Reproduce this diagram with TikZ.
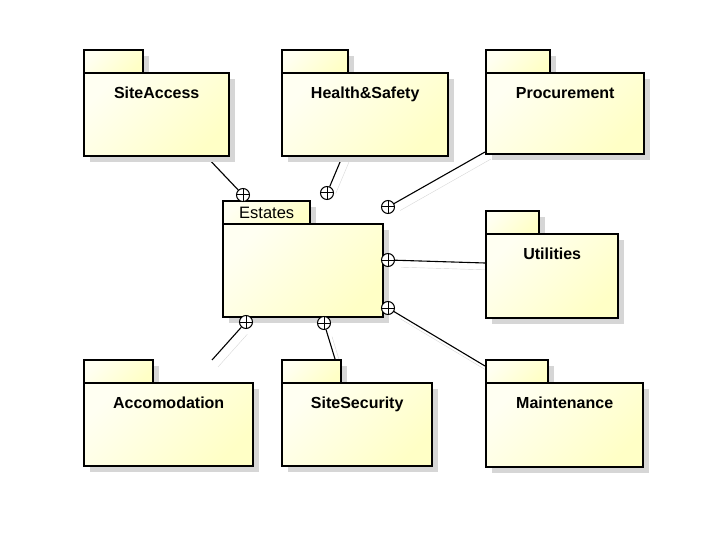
\documentclass[tikz,border=0pt]{standalone}
\usepackage{fontspec}
\setmainfont{Liberation Sans}
\usetikzlibrary{positioning,backgrounds}

\definecolor{pkglight}{RGB}{255,255,242}
\definecolor{pkgdark}{RGB}{255,255,198}
\definecolor{shadowgray}{RGB}{214,214,214}

\tikzset{
  pkgbox/.style={draw, line width=2.4pt, anchor=north west, inner sep=0pt,
    left color=pkglight, right color=pkgdark, shading angle=45},
  pkgshadow/.style={fill=shadowgray},
  pkglabel/.style={font=\fontsize{16}{19}\selectfont\bfseries, inner sep=0pt},
  nestsym/.style={circle, draw, line width=1pt, fill=white, minimum size=13pt, inner sep=0pt,
    path picture={\draw[line width=1pt] (path picture bounding box.north) -- (path picture bounding box.south)
      (path picture bounding box.west) -- (path picture bounding box.east);}},
  nestlink/.style={line width=1.1pt, preaction={draw, shadowgray, transform canvas={xshift=6pt, yshift=-7pt}}}
}

\begin{document}
\begin{tikzpicture}[x=1pt,y=-1pt]
  \useasboundingbox (0,0) rectangle (720,540);

  % packages: name / left / body top / body width / body height / tab width / text
  \foreach \nm/\lx/\ty/\bw/\bh/\tw/\txt in {
      siteaccess/83/72/145/83/59/SiteAccess,
      healthsafety/281/72/166/83/66/Health\&Safety,
      procurement/485/72/158/81/64/Procurement,
      utilities/485/233/132/84/53/Utilities,
      accomodation/83/382/169/83/69/Accomodation,
      sitesecurity/281/382/150/83/59/SiteSecurity,
      maintenance/485/382/157/84/62/Maintenance}
  {
    \fill[pkgshadow] (\lx+7,\ty-16) rectangle ++(\tw,23);
    \fill[pkgshadow] (\lx+7,\ty+7) rectangle ++(\bw,\bh);
    \node[pkgbox, minimum width=\tw, minimum height=23] (\nm-tab) at (\lx,\ty-23) {};
    \node[pkgbox, minimum width=\bw, minimum height=\bh] (\nm) at (\lx,\ty) {};
    \node[pkglabel, below=15pt of \nm.north] (\nm-label) {\txt};
  }

  % Estates, name in the tab
  \fill[pkgshadow] (229,207) rectangle ++(87,23);
  \fill[pkgshadow] (229,230) rectangle ++(160,93);
  \node[pkgbox, minimum width=87, minimum height=23] (estates-tab) at (222,200) {};
  \node[pkgbox, minimum width=160, minimum height=93] (estates) at (222,223) {};
  \node[pkglabel, font=\fontsize{16.5}{19}\selectfont] (estates-label) at (estates-tab.center) {Estates};

  % nesting symbols
  \node[nestsym] (n-sa) at (243,195) {};
  \node[nestsym] (n-hs) at (327,193) {};
  \node[nestsym] (n-pr) at (388,207) {};
  \node[nestsym] (n-ut) at (388,260) {};
  \node[nestsym] (n-mt) at (388,308) {};
  \node[nestsym] (n-ac) at (246,322) {};
  \node[nestsym] (n-ss) at (324,323) {};

  % line ends at the packages
  \coordinate (e-sa) at (205,155);
  \coordinate (e-hs) at (343,155);
  \coordinate (e-pr) at (485,152);
  \coordinate (e-ut) at (485,263);
  \coordinate (e-mt) at (485,366);
  \coordinate (e-ac) at (212,360);
  \coordinate (e-ss) at (335,359);

  \begin{scope}[on background layer]
    \draw[nestlink] (n-sa) -- (e-sa);
    \draw[nestlink] (n-hs) -- (e-hs);
    \draw[nestlink] (n-pr) -- (e-pr);
    \draw[nestlink] (n-ut) -- (e-ut);
    \draw[nestlink] (n-mt) -- (e-mt);
    \draw[nestlink] (n-ac) -- (e-ac);
    \draw[nestlink] (n-ss) -- (e-ss);
  \end{scope}
\end{tikzpicture}
\end{document}
